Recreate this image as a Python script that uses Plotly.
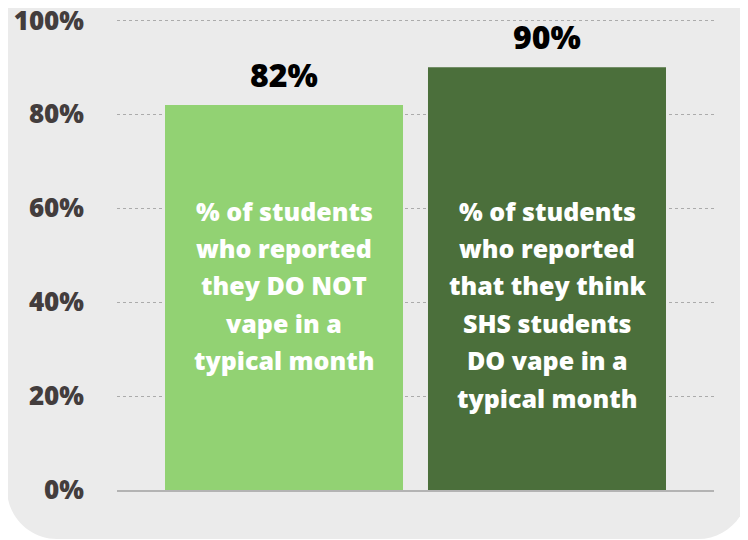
import plotly.graph_objects as go

# data
categories = [0, 1]
values = [82, 90]
value_labels = ['82%', '90%']
bar_colors = ['#92D273', '#4B6F3B']
bar_texts = [
    ['% of students', 'who reported', 'they DO NOT', 'vape in a', 'typical month'],
    ['% of students', 'who reported', 'that they think', 'SHS students', 'DO vape in a', 'typical month'],
]
tick_vals = [0, 20, 40, 60, 80, 100]
tick_text = ['0%', '20%', '40%', '60%', '80%', '100%']

# page puts the figure 8px in from the top-left corner, so margins are shifted by that
W, H = 748, 540
ML, MR, MT, MB = 109, 42, 11, 58
PW, PH = W - ML - MR, H - MT - MB
FONT = 'Open Sans'


def px(x):
    return (x - ML) / PW


def py(y):
    return (H - MB - y) / PH


def rounded_box(x0, y0, x1, y1, r):
    k = 0.5523 * r
    pts = [
        ('M', [(x0, y0)]),
        ('L', [(x1, y0)]),
        ('L', [(x1, y1 - r)]),
        ('C', [(x1, y1 - r + k), (x1 - r + k, y1), (x1 - r, y1)]),
        ('L', [(x0 + r, y1)]),
        ('C', [(x0 + r - k, y1), (x0, y1 - r + k), (x0, y1 - r)]),
    ]
    path = ''
    for cmd, coords in pts:
        path += cmd + ' ' + ' '.join(f'{px(a):.5f},{py(b):.5f}' for a, b in coords) + ' '
    return path + 'Z'


fig = go.Figure()
fig.add_trace(go.Bar(x=categories, y=values, width=0.905,
                     marker=dict(color=bar_colors, line=dict(width=0)),
                     hoverinfo='skip'))

annotations = []
for x, v, lab in zip(categories, values, value_labels):
    annotations.append(dict(x=x, y=v, xref='x', yref='y', text=lab,
                            showarrow=False, yanchor='bottom', yshift=7,
                            font=dict(family=FONT, size=32, color='#000000', weight=800)))
for x, lines in zip(categories, bar_texts):
    for i, line in enumerate(lines):
        annotations.append(dict(x=x, y=59.5, xref='x', yref='y', text=line,
                                showarrow=False, yanchor='middle', yshift=-i * 37.4,
                                font=dict(family=FONT, size=25, color='#FFFFFF', weight=800)))

fig.update_layout(
    width=W, height=H,
    margin=dict(l=ML, r=MR, t=MT, b=MB, autoexpand=False),
    paper_bgcolor='#FFFFFF', plot_bgcolor='rgba(0,0,0,0)',
    showlegend=False,
    annotations=annotations,
    shapes=[dict(type='path', xref='paper', yref='paper', layer='below',
                 path=rounded_box(-1, -30, 740, 531, 50),
                 fillcolor='#EBEBEB', line=dict(width=0))],
)
fig.update_xaxes(range=[-0.635, 1.635], showticklabels=False, showgrid=False,
                 zeroline=False, showline=True, linecolor='#B3B3B3', linewidth=2,
                 automargin=False)
fig.update_yaxes(range=[0, 100.3], tickvals=tick_vals, ticktext=tick_text,
                 showgrid=True, gridcolor='#ABABAB', griddash='dot', gridwidth=1,
                 zeroline=False, showline=False, ticklabelstandoff=32, automargin=False,
                 ticklabeloverflow='allow',
                 tickfont=dict(family=FONT, size=26, color='#433D3D', weight=800))

fig.write_html('out.html')
